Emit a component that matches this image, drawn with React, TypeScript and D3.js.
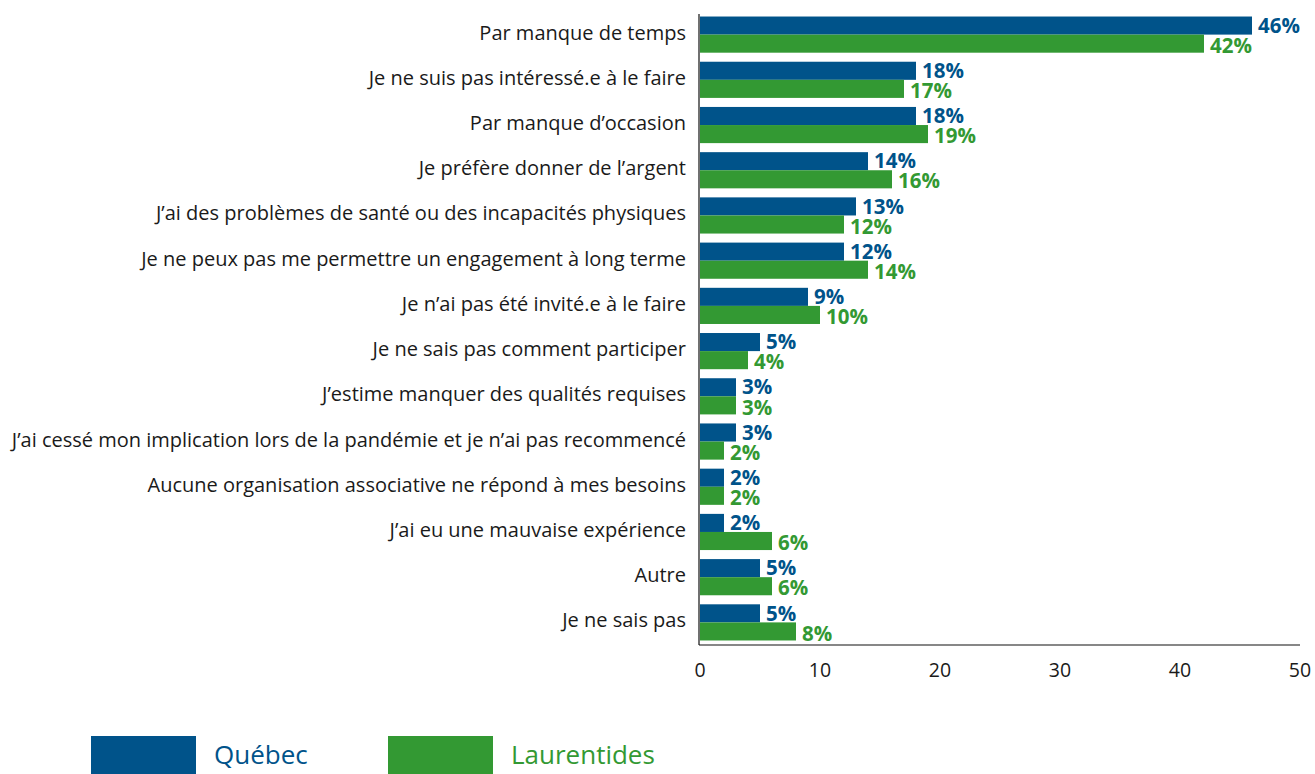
import React, { useEffect, useRef } from "react";
import * as d3 from "d3";

const categories = [
  "Par manque de temps",
  "Je ne suis pas intéressé.e à le faire",
  "Par manque d’occasion",
  "Je préfère donner de l’argent",
  "J’ai des problèmes de santé ou des incapacités physiques",
  "Je ne peux pas me permettre un engagement à long terme",
  "Je n’ai pas été invité.e à le faire",
  "Je ne sais pas comment participer",
  "J’estime manquer des qualités requises",
  "J’ai cessé mon implication lors de la pandémie et je n’ai pas recommencé",
  "Aucune organisation associative ne répond à mes besoins",
  "J’ai eu une mauvaise expérience",
  "Autre",
  "Je ne sais pas",
];

const quebec = [46, 18, 18, 14, 13, 12, 9, 5, 3, 3, 2, 2, 5, 5];
const laurentides = [42, 17, 19, 16, 12, 14, 10, 4, 3, 2, 2, 6, 6, 8];

const seriesNames = ["Québec", "Laurentides"];
const colors = ["#00538a", "#339933"];
const ticks = [0, 10, 20, 30, 40, 50];

const WIDTH = 1315;
const HEIGHT = 774;
const FONT = "'Open Sans', Lato, sans-serif";

const App = () => {
  const svgRef = useRef<SVGSVGElement>(null);

  useEffect(() => {
    const svg = d3.select(svgRef.current);
    svg.selectAll("*").remove();

    const x = d3.scaleLinear().domain([0, 50]).range([700, 1300]);
    const y = d3
      .scaleBand()
      .domain(categories)
      .range([12, 645])
      .paddingInner(0.2)
      .paddingOuter(0.1);
    const sub = d3
      .scaleBand()
      .domain(seriesNames)
      .range([0, y.bandwidth()]);

    const rows = categories.map((c, i) => ({
      cat: c,
      vals: [quebec[i], laurentides[i]],
    }));

    // bars + value labels
    const g = svg.append("g");
    rows.forEach((r) => {
      r.vals.forEach((v, k) => {
        const y0 = (y(r.cat) as number) + (sub(seriesNames[k]) as number);
        g.append("rect")
          .attr("x", x(0))
          .attr("y", y0)
          .attr("width", x(v) - x(0))
          .attr("height", sub.bandwidth())
          .attr("fill", colors[k]);
        g.append("text")
          .attr("x", x(v) + 6)
          .attr("y", y0 + sub.bandwidth() / 2 + (k === 0 ? 0 : 2))
          .attr("dy", "0.35em")
          .attr("fill", colors[k])
          .style("font-family", FONT)
          .style("font-weight", "bold")
          .style("font-size", "20.5px")
          .text(`${v}%`);
      });
    });

    // category labels
    svg
      .append("g")
      .selectAll("text")
      .data(categories)
      .enter()
      .append("text")
      .attr("x", 686)
      .attr("y", (d) => (y(d) as number) + y.bandwidth() / 2 - 2)
      .attr("dy", "0.35em")
      .attr("text-anchor", "end")
      .attr("fill", "#1a1a1a")
      .style("font-family", FONT)
      .style("font-size", "20px")
      .text((d) => d);

    // axes
    svg
      .append("line")
      .attr("x1", x(0) - 1)
      .attr("x2", x(0) - 1)
      .attr("y1", 14)
      .attr("y2", 645)
      .attr("stroke", "#111")
      .attr("stroke-width", 1.2);
    svg
      .append("line")
      .attr("x1", x(0) - 1)
      .attr("x2", x(50))
      .attr("y1", 645)
      .attr("y2", 645)
      .attr("stroke", "#111")
      .attr("stroke-width", 1.2);

    svg
      .append("g")
      .selectAll("text")
      .data(ticks)
      .enter()
      .append("text")
      .attr("x", (d) => x(d))
      .attr("y", 677)
      .attr("text-anchor", "middle")
      .attr("fill", "#1a1a1a")
      .style("font-family", FONT)
      .style("font-size", "19.5px")
      .text((d) => d);

    // legend
    const legendX = [91, 388];
    seriesNames.forEach((name, k) => {
      svg
        .append("rect")
        .attr("x", legendX[k])
        .attr("y", 736)
        .attr("width", 105)
        .attr("height", 40)
        .attr("fill", colors[k]);
      svg
        .append("text")
        .attr("x", legendX[k] + 123)
        .attr("y", 764)
        .attr("fill", colors[k])
        .style("font-family", FONT)
        .style("font-size", "26px")
        .text(name);
    });
  }, []);

  return (
    <div style={{ position: "absolute", left: 0, top: 0, background: "#fff" }}>
      <svg ref={svgRef} width={WIDTH} height={HEIGHT}></svg>
    </div>
  );
};

export default App;
